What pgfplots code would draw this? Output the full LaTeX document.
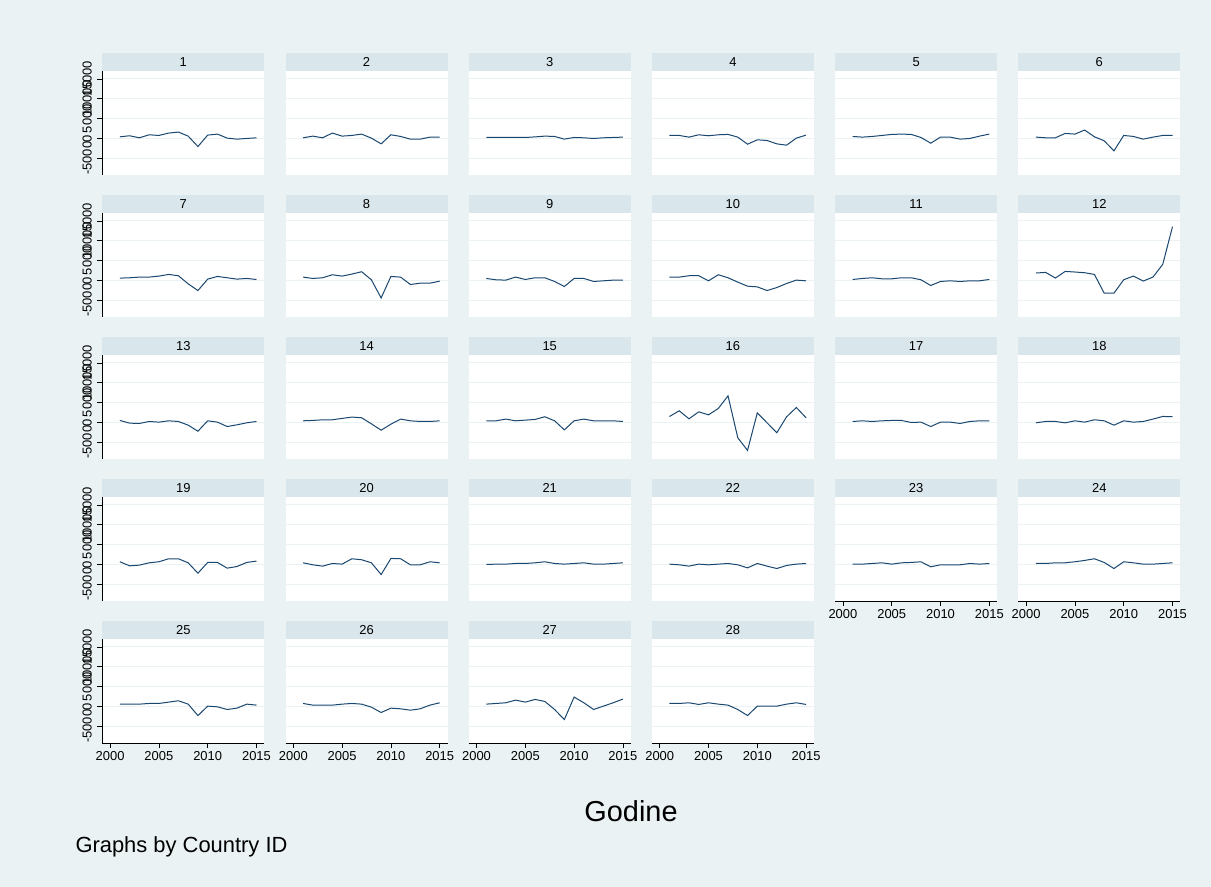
\documentclass[border=0pt]{standalone}
\usepackage{fontspec}
\setmainfont{Liberation Sans}
\usepackage{pgfplots}
\usepackage{pgfplotstable}
\pgfplotsset{compat=1.18}

\definecolor{bgblue}{RGB}{234,242,243}
\definecolor{strip}{RGB}{217,230,235}
\definecolor{navy}{RGB}{26,71,111}
\definecolor{gridc}{RGB}{234,242,243}

% yearly values per country panel
\pgfplotstableread{
year p1 p2 p3 p4 p5 p6 p7 p8 p9 p10 p11 p12 p13 p14 p15 p16 p17 p18 p19 p20 p21 p22 p23 p24 p25 p26 p27 p28
2001 420 170 250 760 510 340 590 850 510 850 250 1880 510 420 420 1510 250 -85 680 420 0 85 85 250 590 760 590 760
2002 680 590 250 760 340 170 680 510 170 850 510 2030 -170 510 420 2940 420 250 -340 -85 85 -85 85 250 590 340 760 760
2003 170 170 250 340 510 170 850 680 85 1190 680 610 -250 680 850 920 250 250 -170 -420 85 -420 250 420 590 340 930 930
2004 930 1360 250 930 760 1270 850 1440 850 1190 420 2280 250 680 420 2680 420 -85 420 250 250 85 420 420 760 340 1610 510
2005 760 590 250 680 1020 1100 1100 1100 250 -85 420 2130 85 1020 590 1930 510 420 680 85 250 -85 85 680 760 590 1100 930
2006 1360 760 400 930 1100 2120 1520 1610 680 1440 680 1950 420 1360 760 3520 510 85 1440 1440 420 85 420 1020 1100 760 1780 590
2007 1610 1100 590 1020 1020 420 1190 2200 680 680 680 1520 250 1190 1440 6700 0 680 1440 1190 680 250 510 1440 1440 590 1270 340
2008 590 85 510 340 250 -590 -850 170 -250 -420 170 -3200 -680 -340 420 -3850 85 420 420 420 250 -85 680 510 590 -170 -760 -760
2009 -2030 -1360 -170 -1440 -1190 -3130 -2540 -4400 -1520 -1440 -1270 -3200 -2200 -1950 -1860 -7040 -1020 -680 -2200 -2540 85 -850 -590 -1020 -2290 -1520 -3300 -2290
2010 850 930 250 -340 340 760 340 1020 510 -1610 -250 180 420 -420 420 2430 85 420 510 1520 250 250 -85 680 85 -420 2370 85
2011 1100 510 170 -510 340 510 1020 850 510 -2540 -85 1110 85 850 850 -80 85 85 510 1440 420 -420 -85 420 -85 -590 930 85
2012 85 -170 0 -1360 -170 -170 680 -1020 -250 -1780 -250 -150 -1020 420 420 -2600 -250 250 -930 -85 85 -1020 -85 85 -760 -930 -760 85
2013 -170 -170 170 -1690 0 340 340 -680 -85 -760 -85 860 -590 250 420 1420 250 850 -510 -85 85 -250 250 85 -420 -590 85 590
2014 0 340 250 85 590 760 510 -680 85 85 -85 4060 -85 250 420 3770 420 1520 510 680 250 85 85 250 590 340 930 930
2015 170 340 340 850 1100 760 250 -170 85 -85 250 13550 250 420 250 1180 420 1440 850 420 420 250 250 420 340 930 1860 510
}\gdpdata

\pgfplotsset{
  panel/.style={
    width=162bp, height=104bp, scale only axis,
    xmin=1999.2, xmax=2015.8, ymin=-9200, ymax=17000,
    scaled x ticks=false, scaled y ticks=false,
    axis lines*=left,
    axis line style={-, black, line width=0.6bp},
    axis background/.style={fill=white},
    tick align=outside, major tick length=5bp,
    tick style={black, line width=0.6bp},
    xtick={2000,2005,2010,2015}, xticklabels={2000,2005,2010,2015},
    ytick={-5000,0,5000,10000,15000},
    yticklabels={-5000,0,5000,10000,15000},
    ymajorgrids, major grid style={gridc, line width=1bp},
    yticklabel style={xshift=-2bp, rotate=90, anchor=south, font=\fontsize{13}{13}\selectfont},
    xticklabel style={font=\fontsize{13}{13}\selectfont},
    every axis title/.style={at={(0.5,1)}, anchor=south, fill=strip,
      minimum width=162bp, minimum height=18bp, inner sep=0pt,
      font=\fontsize{13}{13}\selectfont},
  },
  noleft/.style={y axis line style={draw=none}, ytick style={draw=none}, yticklabels={}},
  nobottom/.style={x axis line style={draw=none}, xtick style={draw=none}, xticklabels={}},
  panelsel/.code={%
    \ifnum\isleft=0 \pgfkeysalso{/pgfplots/noleft}\fi
    \ifnum\isbot=0 \pgfkeysalso{/pgfplots/nobottom}\fi},
}

\begin{document}
\begin{tikzpicture}
\fill[bgblue] (0,0) rectangle (1211bp,887bp);

\foreach \i in {1,...,28}{%
  \pgfmathtruncatemacro\col{mod(\i-1,6)}%
  \pgfmathtruncatemacro\row{int((\i-1)/6)}%
  \pgfmathsetmacro\px{102.3+183.2*\col}%
  \pgfmathsetmacro\py{712-142*\row}%
  \pgfmathtruncatemacro\isleft{\col==0 ? 1 : 0}%
  \pgfmathtruncatemacro\isbot{\i>22 ? 1 : 0}%
  \begin{axis}[panel, panelsel, at={(\px bp,\py bp)}, anchor=south west, title={\i}]
    \edef\doplot{\noexpand\addplot[navy, line width=1bp] table[x=year, y=p\i] {\noexpand\gdpdata};}%
    \doplot
  \end{axis}
}

\node[font=\fontsize{29}{30}\selectfont] at (631bp,76bp) {Godine};
\node[anchor=west, font=\fontsize{22}{24}\selectfont] at (72bp,40bp) {Graphs by Country ID};
\end{tikzpicture}
\end{document}
